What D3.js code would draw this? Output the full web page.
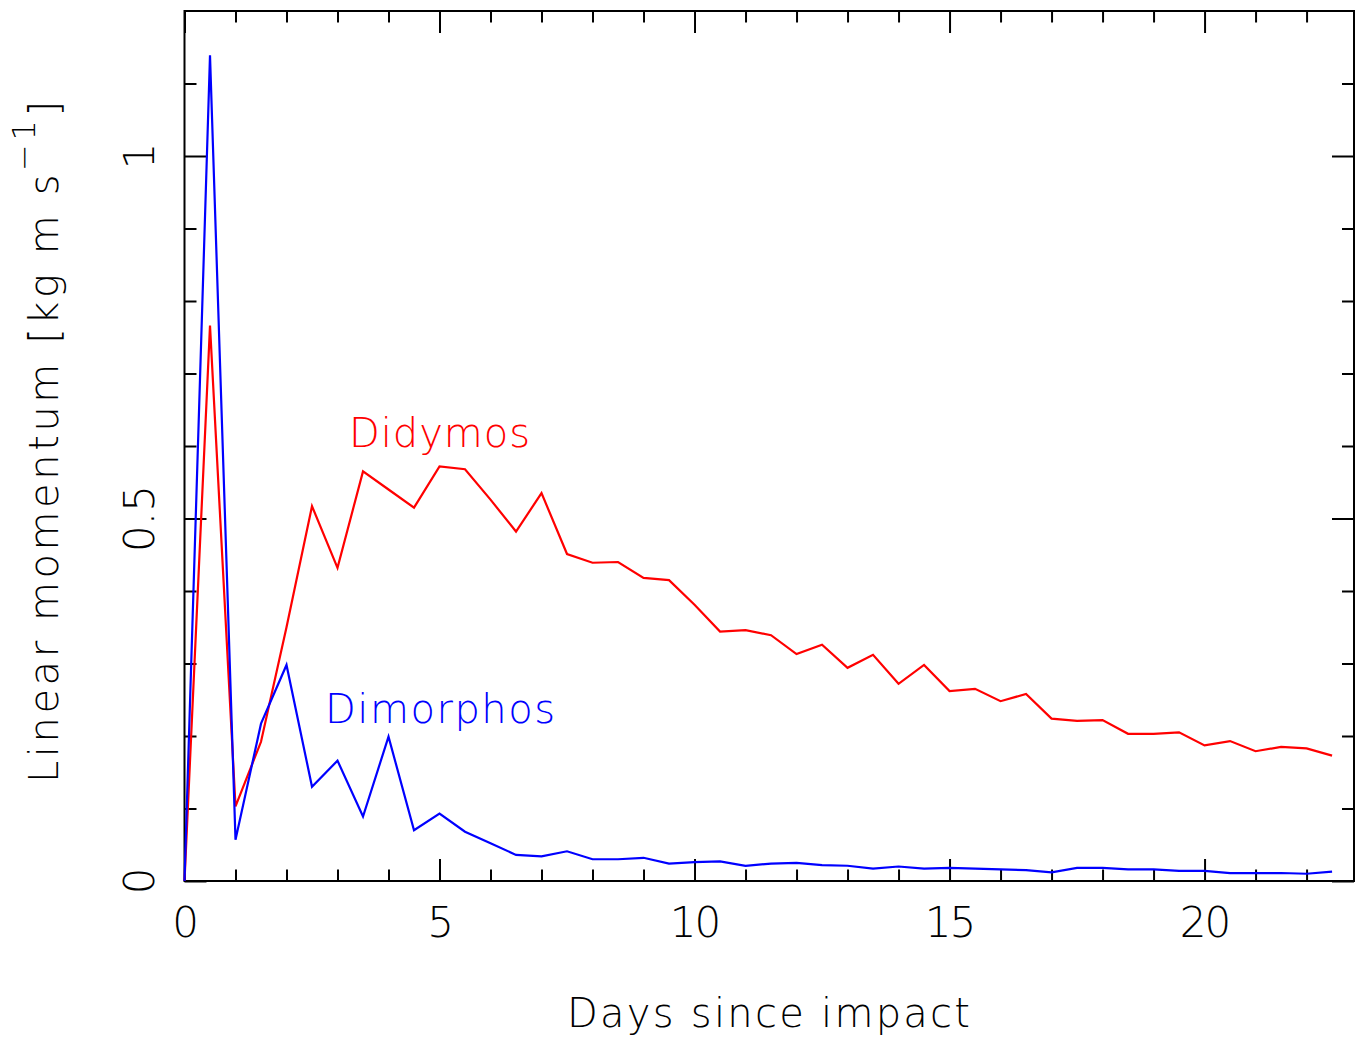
<!DOCTYPE html>
<html>
<head>
<meta charset="utf-8">
<script src="https://cdn.jsdelivr.net/npm/d3@7"></script>
<style>
  body { margin: 0; background: #fff; }
  text { font-family: "DejaVu Sans", "Liberation Sans", sans-serif; font-weight: 200; }
</style>
</head>
<body>
<svg id="chart" width="1356" height="1038"></svg>
<script>
// Sampling times (days since impact)
const days = [0, 0.5, 1, 1.5, 2, 2.5, 3, 3.5, 4, 4.5, 5, 5.5, 6, 6.5, 7, 7.5, 8, 8.5, 9, 9.5,
  10, 10.5, 11, 11.5, 12, 12.5, 13, 13.5, 14, 14.5, 15, 15.5, 16, 16.5, 17, 17.5, 18, 18.5,
  19, 19.5, 20, 20.5, 21, 21.5, 22, 22.5];

// Linear momentum of ejecta, kg m s^-1
const didymos = [0, 0.766, 0.103, 0.192, 0.35, 0.517, 0.432, 0.565, 0.540, 0.515, 0.572, 0.568,
  0.526, 0.482, 0.535, 0.451, 0.439, 0.440, 0.418, 0.415, 0.381, 0.344, 0.346, 0.339, 0.313,
  0.326, 0.294, 0.312, 0.272, 0.298, 0.262, 0.265, 0.248, 0.258, 0.224, 0.221, 0.222, 0.203,
  0.203, 0.205, 0.187, 0.193, 0.179, 0.185, 0.183, 0.173];
const dimorphos = [0, 1.139, 0.057, 0.217, 0.298, 0.130, 0.166, 0.089, 0.199, 0.070, 0.093, 0.068,
  0.052, 0.036, 0.034, 0.041, 0.030, 0.030, 0.032, 0.024, 0.026, 0.027, 0.021, 0.024, 0.025,
  0.022, 0.021, 0.017, 0.020, 0.017, 0.018, 0.017, 0.016, 0.015, 0.012, 0.018, 0.018, 0.016,
  0.016, 0.014, 0.014, 0.011, 0.011, 0.011, 0.010, 0.013];

// Tick values and labels
const xMajor = [0, 5, 10, 15, 20];
const xMinor = [1, 2, 3, 4, 6, 7, 8, 9, 11, 12, 13, 14, 16, 17, 18, 19, 21, 22];
const yMajor = [0, 0.5, 1];
const yMinor = [0.1, 0.2, 0.3, 0.4, 0.6, 0.7, 0.8, 0.9, 1.1];
const yLabels = ["0", "0.5", "1"];

const svg = d3.select("#chart");
const L = 184.5, R = 1354, T = 11, B = 881;

const x = d3.scaleLinear().domain([0, 22.93]).range([L, R]);
const y = d3.scaleLinear().domain([0, 1.2]).range([B, T]);

// Frame
svg.append("rect")
  .attr("x", L).attr("y", T).attr("width", R - L).attr("height", B - T)
  .attr("fill", "none").attr("stroke", "#000").attr("stroke-width", 2);

function ticks(axis, tx, ty) {
  const g = svg.append("g").attr("transform", `translate(${tx},${ty})`).call(axis);
  g.select(".domain").remove();
  g.selectAll(".tick line").attr("stroke", "#000").attr("stroke-width", 2);
  g.selectAll(".tick text").remove();
  return g;
}

// Inward ticks on all four sides
ticks(d3.axisTop(x).tickValues(xMinor).tickSize(11.5), 0, B);
ticks(d3.axisTop(x).tickValues(xMajor).tickSize(22), 0, B);
ticks(d3.axisBottom(x).tickValues(xMinor).tickSize(11.5), 0, T);
ticks(d3.axisBottom(x).tickValues(xMajor).tickSize(22), 0, T);
ticks(d3.axisRight(y).tickValues(yMinor).tickSize(12), L, 0);
ticks(d3.axisRight(y).tickValues(yMajor).tickSize(22), L, 0);
ticks(d3.axisLeft(y).tickValues(yMinor).tickSize(12), R, 0);
ticks(d3.axisLeft(y).tickValues(yMajor).tickSize(22), R, 0);

// X tick labels
svg.append("g").selectAll("text").data(xMajor).join("text")
  .attr("x", d => x(d)).attr("y", 937)
  .attr("text-anchor", "middle")
  .attr("font-size", 42)
  .attr("letter-spacing", -2)
  .text(d => d);

// Y tick labels (rotated)
svg.append("g").selectAll("text").data(yMajor).join("text")
  .attr("transform", d => `translate(154,${y(d)}) rotate(-90)`)
  .attr("text-anchor", "middle")
  .attr("font-size", 42)
  .text((d, i) => yLabels[i]);

// Series
const line = vals => d3.line().x((d, i) => x(days[i])).y(d => y(d))(vals);
svg.append("path").attr("d", line(didymos))
  .attr("fill", "none").attr("stroke", "#ff0000").attr("stroke-width", 2.2)
  .attr("stroke-linejoin", "miter");
svg.append("path").attr("d", line(dimorphos))
  .attr("fill", "none").attr("stroke", "#0000ff").attr("stroke-width", 2.2)
  .attr("stroke-linejoin", "miter");

function fit(sel, target) {
  const node = sel.node();
  const n = node.textContent.length;
  const w = node.getComputedTextLength();
  sel.attr("letter-spacing", (target - w) / (n - 1));
}

// Series labels
fit(svg.append("text").attr("x", 349).attr("y", 447).attr("font-size", 40)
  .attr("fill", "#ff0000").text("Didymos"), 181);
fit(svg.append("text").attr("x", 325).attr("y", 723).attr("font-size", 40)
  .attr("fill", "#0000ff").text("Dimorphos"), 230);

// Axis titles
fit(svg.append("text").attr("x", 567).attr("y", 1027).attr("font-size", 40)
  .text("Days since impact"), 403);

const yt = svg.append("text").attr("transform", "translate(58,783) rotate(-90)")
  .attr("font-size", 40);
yt.append("tspan").text("Linear momentum [kg m s");
yt.append("tspan").attr("font-size", 32).attr("dy", -23).text("−1");
yt.append("tspan").attr("dy", 23).text("]");
fit(yt, 682);
</script>
</body>
</html>
